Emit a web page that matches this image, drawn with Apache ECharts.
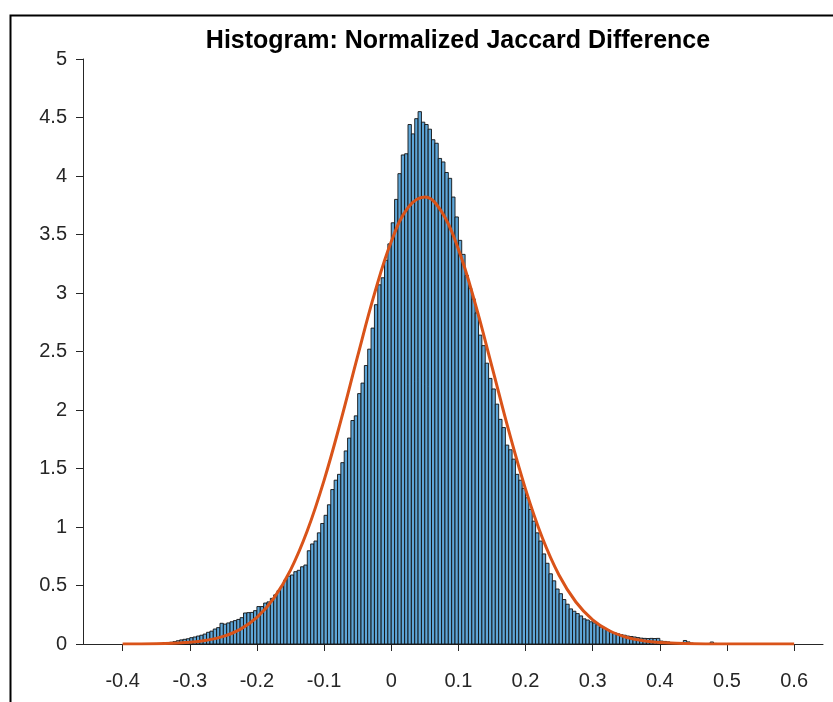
<!DOCTYPE html>
<html><head><meta charset="utf-8">
<script src="https://cdn.jsdelivr.net/npm/echarts@6/dist/echarts.min.js"></script>
<style>html,body{margin:0;padding:0;background:#fff}#c{width:833px;height:702px}</style>
</head><body><div id="c"></div>
<script>
const titleText = 'Histogram: Normalized Jaccard Difference';
const binWidth = 0.005;
const firstBinStart = -0.34;
const binHeights = [
  0.012,0.012,0.015,0.02,0.028,0.035,0.04,0.045,0.054,0.06,
  0.068,0.075,0.085,0.1,0.11,0.128,0.14,0.177,0.17,0.18,
  0.19,0.2,0.21,0.225,0.265,0.268,0.27,0.285,0.32,0.32,
  0.35,0.36,0.39,0.42,0.456,0.49,0.547,0.58,0.59,0.618,
  0.63,0.66,0.675,0.797,0.855,0.88,0.95,1.03,1.10,1.19,
  1.32,1.40,1.45,1.55,1.65,1.76,1.91,1.95,2.14,2.23,
  2.38,2.52,2.70,2.90,3.07,3.13,3.28,3.42,3.60,3.80,
  4.02,4.18,4.19,4.44,4.36,4.49,4.55,4.46,4.44,4.40,
  4.31,4.28,4.15,4.12,4.03,3.98,3.82,3.65,3.45,3.33,
  3.15,3.04,2.95,2.83,2.64,2.55,2.40,2.27,2.18,2.05,
  1.92,1.85,1.70,1.66,1.58,1.45,1.40,1.33,1.25,1.15,
  1.05,0.95,0.88,0.77,0.69,0.60,0.54,0.47,0.43,0.38,
  0.34,0.30,0.28,0.26,0.24,0.215,0.205,0.19,0.18,0.165,
  0.145,0.135,0.12,0.105,0.097,0.088,0.08,0.075,0.068,0.064,
  0.06,0.055,0.05,0.048,0.047,0.048,0.047,0.048,0.025,0.022,
  0.018,0.012,0.01,0.008,0.006,0.03,0.018,0.008,0.004,0.004,
  0.003,0.003,0.003,0.017,0.005
];
const fitX = [-0.4,-0.35,-0.3,-0.275,-0.25,-0.225,-0.2,-0.175,-0.15,-0.125,-0.1,-0.075,-0.05,-0.025,0,0.025,0.05,0.075,0.1,0.125,0.15,0.175,0.2,0.225,0.25,0.275,0.3,0.325,0.35,0.375,0.4,0.45,0.5,0.55,0.6];
const fitY = [0.0004,0.0027,0.015,0.032,0.065,0.125,0.227,0.39,0.632,0.968,1.399,1.909,2.46,2.992,3.438,3.729,3.82,3.695,3.375,2.911,2.371,1.823,1.324,0.908,0.588,0.359,0.207,0.113,0.058,0.028,0.013,0.0023,0.0003,0,0];
const xTickValues = [-0.4,-0.3,-0.2,-0.1,0,0.1,0.2,0.3,0.4,0.5,0.6];
const xTickLabels = ['-0.4','-0.3','-0.2','-0.1','0','0.1','0.2','0.3','0.4','0.5','0.6'];
const yTickLabels = ['0','0.5','1','1.5','2','2.5','3','3.5','4','4.5','5'];

const bins = binHeights.map((h, i) => {
  const x0 = +(firstBinStart + i * binWidth).toFixed(4);
  return [x0, +(x0 + binWidth).toFixed(4), h];
});
const fitData = fitX.map((x, i) => [x, fitY[i]]);

const FONT = "'Liberation Sans', Arial, Helvetica, sans-serif";
const AX = '#262626';
const chart = echarts.init(document.getElementById('c'), null, {renderer: 'canvas'});
chart.setOption({
  animation: false,
  backgroundColor: '#fff',
  title: {
    text: titleText, left: 453, top: 24, textAlign: 'center',
    textStyle: {fontFamily: FONT, fontWeight: 'bold', fontSize: 25, color: '#000'}
  },
  graphic: [{
    type: 'rect', left: 8, top: 13, z: 100, silent: true,
    shape: {width: 900, height: 800},
    style: {fill: 'none', stroke: '#000', lineWidth: 2}
  }],
  grid: {left: 83, right: 10, top: 59, bottom: 58, containLabel: false},
  xAxis: {
    type: 'value', min: -0.459, max: 0.643,
    axisLine: {show: true, onZero: false, lineStyle: {color: AX, width: 1}},
    axisTick: {show: true, length: 7, customValues: xTickValues, lineStyle: {color: AX}},
    axisLabel: {
      customValues: xTickValues, margin: 27, fontFamily: FONT, fontSize: 20, color: AX,
      formatter: v => xTickLabels[xTickValues.findIndex(t => Math.abs(t - v) < 1e-6)] || ''
    },
    splitLine: {show: false}
  },
  yAxis: {
    type: 'value', min: 0, max: 5, interval: 0.5,
    axisLine: {show: true, onZero: false, lineStyle: {color: AX, width: 1}},
    axisTick: {show: true, length: 7, lineStyle: {color: AX}},
    axisLabel: {
      margin: 16, fontFamily: FONT, fontSize: 20, color: AX,
      formatter: v => yTickLabels[Math.round(v / 0.5)]
    },
    splitLine: {show: false}
  },
  series: [{
    type: 'custom',
    data: bins,
    encode: {x: [0, 1], y: 2},
    renderItem: function (params, api) {
      const p0 = api.coord([api.value(0), api.value(2)]);
      const p1 = api.coord([api.value(1), 0]);
      return {
        type: 'rect',
        shape: {x: p0[0], y: p0[1], width: p1[0] - p0[0], height: p1[1] - p0[1]},
        style: {fill: '#5EA6D8', stroke: '#111', lineWidth: 0.9}
      };
    },
    z: 2
  }, {
    type: 'line',
    data: fitData,
    smooth: 0.4,
    showSymbol: false,
    lineStyle: {color: '#D95319', width: 3},
    z: 3
  }]
});
</script>
</body></html>
